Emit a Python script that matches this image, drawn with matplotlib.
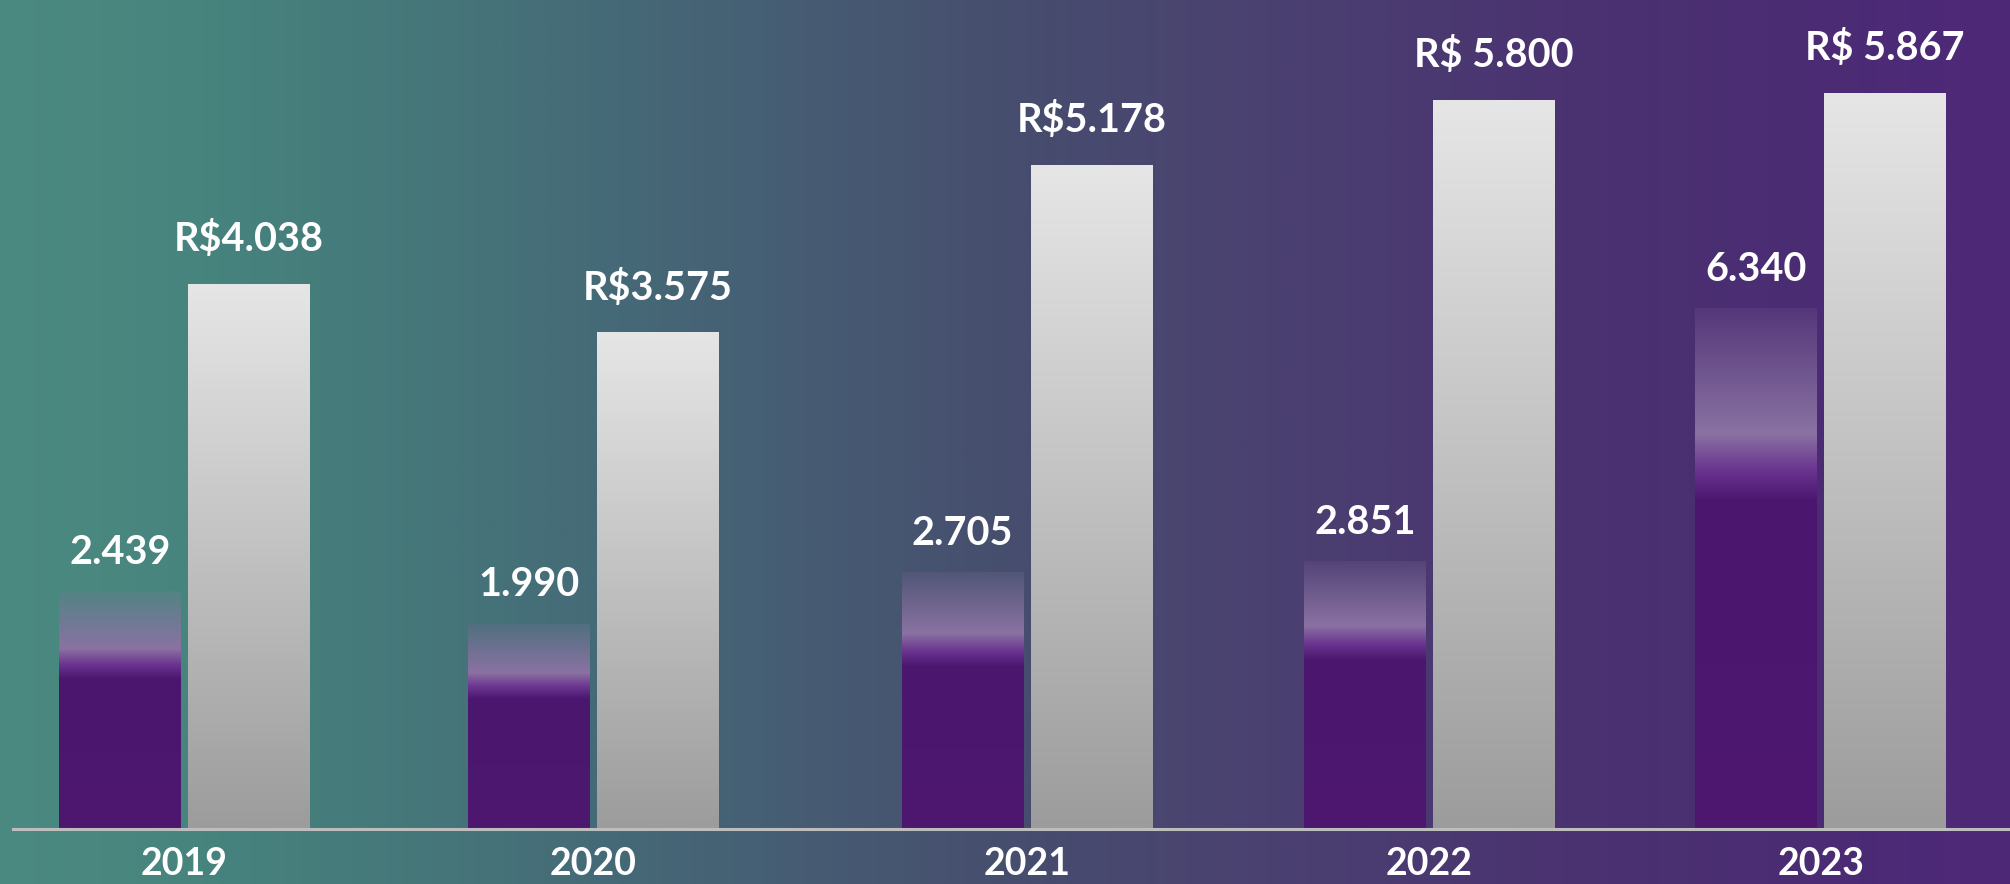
import matplotlib.pyplot as plt
import matplotlib.colors as mcolors
import numpy as np

# data
years = ['2019', '2020', '2021', '2022', '2023']
purple_values = [2439, 1990, 2705, 2851, 6340]
purple_labels = ['2.439', '1.990', '2.705', '2.851', '6.340']
white_values = [4038, 3575, 5178, 5800, 5867]
white_labels = ['R$4.038', 'R$3.575', 'R$5.178', 'R$ 5.800', 'R$ 5.867']

# layout
group_x = np.arange(len(years)) + np.array([0, 0, 0.06, 0.044, 0])
bar_w = 0.298
off = 0.158
FONT = 'Lato'
# the source chart does not start its bars at zero: axis floors and tops
p_floor, p_top = -841, 10593
w_floor, w_top = -1186, 6755

# background stops (fraction of width, colour)
bg_stops = [(0.0, '#4b8a80'), (0.10, '#47847e'), (0.20, '#45787a'),
            (0.30, '#456a77'), (0.40, '#465c73'), (0.50, '#464e6e'),
            (0.60, '#4a4470'), (0.70, '#4a3a71'), (0.80, '#4a3170'),
            (0.90, '#4b2c74'), (1.0, '#4e2878')]


def bg_at(f):
    pos = [s[0] for s in bg_stops]
    rgb = np.array([mcolors.to_rgb(s[1]) for s in bg_stops])
    return np.array([np.interp(f, pos, rgb[:, i]) for i in range(3)])


fig = plt.figure(figsize=(20.1, 8.84), dpi=100)

# background gradient
bax = fig.add_axes([0, 0, 1, 1])
fx = np.linspace(0, 1, 800)
bg = np.array([bg_at(f) for f in fx])[np.newaxis, :, :]
bax.imshow(bg, aspect='auto', extent=[0, 1, 0, 1])
bax.set_axis_off()

ax = fig.add_axes([0, 55 / 884, 1, 829 / 884])
ax.patch.set_alpha(0)
ax2 = ax.twinx()
xlim = (-0.451, 4.463)

pv = np.array(purple_values)
wv = np.array(white_values)
pbars = ax.bar(group_x - off, pv - p_floor, bottom=p_floor, width=bar_w,
               color='#4e1870', zorder=2)
wbars = ax2.bar(group_x + off, wv - w_floor, bottom=w_floor, width=bar_w,
                color='#c0c0c0', zorder=2)

# gradient fill for purple bars (faded top)
lav = np.array(mcolors.to_rgb('#8a72a2'))
mid = np.array(mcolors.to_rgb('#6a3490'))
dark = np.array(mcolors.to_rgb('#4a166e'))
base = np.array(mcolors.to_rgb('#4e1870'))
n = 300
t = np.linspace(0, 1, n)
for p in pbars:
    x0, w, y0, h = p.get_x(), p.get_width(), p.get_y(), p.get_height()
    fcen = (x0 + w / 2 - xlim[0]) / (xlim[1] - xlim[0])
    top = bg_at(fcen) * 0.85 + lav * 0.15
    stops = [(0.0, top), (0.12, top * 0.5 + lav * 0.5), (0.24, lav),
             (0.31, mid), (0.37, dark), (1.0, base)]
    sp = [s[0] for s in stops]
    sc = np.array([s[1] for s in stops])
    col = np.stack([np.interp(t, sp, sc[:, i]) for i in range(3)], axis=1)
    img = np.repeat(col[:, np.newaxis, :], 2, axis=1)
    im = ax.imshow(img, extent=[x0, x0 + w, y0, y0 + h], aspect='auto', zorder=3)
    im.set_clip_path(p)

# gradient fill for white bars
top_w = np.array(mcolors.to_rgb('#e6e6e6'))
bot_w = np.array(mcolors.to_rgb('#9c9c9c'))
for p in wbars:
    x0, w, y0, h = p.get_x(), p.get_width(), p.get_y(), p.get_height()
    col = top_w[np.newaxis, :] * (1 - t[:, np.newaxis]) + bot_w[np.newaxis, :] * t[:, np.newaxis]
    img = np.repeat(col[:, np.newaxis, :], 2, axis=1)
    im = ax2.imshow(img, extent=[x0, x0 + w, y0, y0 + h], aspect='auto', zorder=3)
    im.set_clip_path(p)

ax.set_xlim(xlim)
ax2.set_xlim(xlim)
ax.set_ylim(p_floor, p_top)
ax2.set_ylim(w_floor, w_top)

# value labels
for x, v, s in zip(group_x - off, purple_values, purple_labels):
    ax.annotate(s, xy=(x, v), xytext=(0, 28), textcoords='offset points',
                ha='center', va='center', color='white', fontsize=28.5,
                fontweight='bold', family=FONT, zorder=6)
for x, v, s in zip(group_x + off, white_values, white_labels):
    ax2.annotate(s, xy=(x, v), xytext=(0, 32), textcoords='offset points',
                 ha='center', va='center', color='white', fontsize=28.5,
                 fontweight='bold', family=FONT, zorder=6)

# baseline
ax2.axhline(w_floor, xmin=13 / 2010, xmax=1, color='#bdbdbd', lw=2.2,
            zorder=5, clip_on=False)

ax.set_xticks(group_x)
ax.set_xticklabels(years, color='white', fontsize=27, fontweight='bold', family=FONT)
ax.tick_params(axis='x', length=0, pad=13)
ax.set_yticks([])
ax2.set_yticks([])
for a in (ax, ax2):
    for s in a.spines.values():
        s.set_visible(False)

fig.savefig('out.png', dpi=100)
